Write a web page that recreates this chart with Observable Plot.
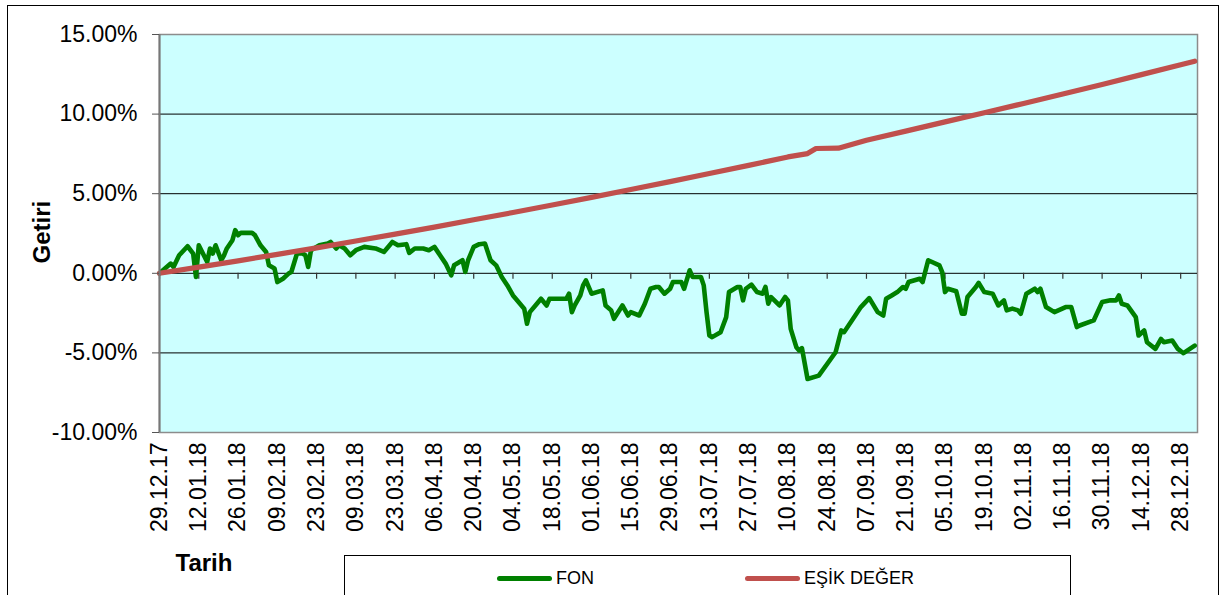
<!DOCTYPE html>
<html><head><meta charset="utf-8">
<script src="https://cdn.jsdelivr.net/npm/d3@7"></script>
<script src="https://cdn.jsdelivr.net/npm/@observablehq/plot@0.6"></script>
<style>
body{margin:0;background:#fff;}
#wrap{position:relative;width:1227px;height:595px;overflow:hidden;font-family:"Liberation Sans",Arial,sans-serif;background:#fff;}
#border{position:absolute;left:7px;top:5px;width:1212px;height:640px;border:1px solid #000;box-sizing:border-box;pointer-events:none;}
#legend{position:absolute;left:344px;top:555px;width:727px;height:70px;border:1px solid #000;box-sizing:border-box;background:#fff;}
.item{position:absolute;top:12px;display:flex;align-items:center;font-size:18px;color:#000;}
.sw{display:inline-block;width:55px;height:5px;border-radius:2.5px;margin-right:4px;}
#chart{position:absolute;left:0;top:0;}
</style>
</head><body>
<div id="wrap">
  <div id="chart"></div>
  <div id="border"></div>
  <div id="legend"></div>
</div>
<script>
// ---- data ----
const tickDates = ["2017-12-29","2018-01-12","2018-01-26","2018-02-09","2018-02-23","2018-03-09","2018-03-23","2018-04-06","2018-04-20","2018-05-04","2018-05-18","2018-06-01","2018-06-15","2018-06-29","2018-07-13","2018-07-27","2018-08-10","2018-08-24","2018-09-07","2018-09-21","2018-10-05","2018-10-19","2018-11-02","2018-11-16","2018-11-30","2018-12-14","2018-12-28"];
const tickLabels = ["29.12.17","12.01.18","26.01.18","09.02.18","23.02.18","09.03.18","23.03.18","06.04.18","20.04.18","04.05.18","18.05.18","01.06.18","15.06.18","29.06.18","13.07.18","27.07.18","10.08.18","24.08.18","07.09.18","21.09.18","05.10.18","19.10.18","02.11.18","16.11.18","30.11.18","14.12.18","28.12.18"];
const yTicks = [-10, -5, 0, 5, 10, 15];
const gridValues = [-5, 0, 5, 10];
const seriesNames = ["FON", "EŞİK DEĞER"];
const seriesColors = ["#008000", "#c0504d"];

const fonDates = ["2017-12-29","2018-01-02","2018-01-03","2018-01-05","2018-01-08","2018-01-10","2018-01-11","2018-01-12","2018-01-15","2018-01-16","2018-01-17","2018-01-18","2018-01-20","2018-01-21","2018-01-22","2018-01-24","2018-01-25","2018-01-26","2018-01-27","2018-01-31",
"2018-02-01","2018-02-03","2018-02-05","2018-02-06","2018-02-08","2018-02-09","2018-02-11","2018-02-13","2018-02-14","2018-02-16","2018-02-18","2018-02-19","2018-02-20","2018-02-21","2018-02-24","2018-02-27","2018-02-28",
"2018-03-02","2018-03-03","2018-03-05","2018-03-07","2018-03-09","2018-03-12","2018-03-16","2018-03-19","2018-03-22","2018-03-24","2018-03-27","2018-03-28","2018-03-30",
"2018-04-02","2018-04-04","2018-04-06","2018-04-08","2018-04-10","2018-04-12","2018-04-13","2018-04-16","2018-04-17","2018-04-18","2018-04-20","2018-04-22","2018-04-24","2018-04-26","2018-04-28","2018-04-30",
"2018-05-02","2018-05-04","2018-05-05","2018-05-08","2018-05-09","2018-05-10","2018-05-12","2018-05-14","2018-05-16","2018-05-17","2018-05-23","2018-05-24","2018-05-25","2018-05-26","2018-05-28","2018-05-29","2018-05-30",
"2018-06-01","2018-06-05","2018-06-06","2018-06-08","2018-06-09","2018-06-12","2018-06-14","2018-06-15","2018-06-18","2018-06-20","2018-06-22","2018-06-24","2018-06-25","2018-06-27","2018-06-29","2018-06-30",
"2018-07-03","2018-07-04","2018-07-06","2018-07-07","2018-07-10","2018-07-11","2018-07-12","2018-07-13","2018-07-14","2018-07-17","2018-07-19","2018-07-20","2018-07-23","2018-07-24","2018-07-25","2018-07-26","2018-07-28","2018-07-30",
"2018-08-01","2018-08-02","2018-08-03","2018-08-04","2018-08-07","2018-08-09","2018-08-10","2018-08-11","2018-08-13","2018-08-14","2018-08-15","2018-08-17","2018-08-21","2018-08-27","2018-08-29","2018-08-30",
"2018-09-03","2018-09-05","2018-09-08","2018-09-11","2018-09-13","2018-09-14","2018-09-16","2018-09-18","2018-09-20","2018-09-21","2018-09-22","2018-09-26","2018-09-27","2018-09-29",
"2018-10-03","2018-10-04","2018-10-05","2018-10-06","2018-10-09","2018-10-11","2018-10-12","2018-10-13","2018-10-16","2018-10-17","2018-10-19","2018-10-22","2018-10-24","2018-10-26","2018-10-27","2018-10-29","2018-10-31",
"2018-11-01","2018-11-03","2018-11-06","2018-11-07","2018-11-08","2018-11-10","2018-11-13","2018-11-17","2018-11-19","2018-11-21","2018-11-22","2018-11-27","2018-11-30",
"2018-12-03","2018-12-05","2018-12-06","2018-12-07","2018-12-09","2018-12-12","2018-12-13","2018-12-15","2018-12-16","2018-12-19","2018-12-21","2018-12-22","2018-12-25","2018-12-27","2018-12-29","2019-01-02"];
const fonValues = [0.00,0.61,0.40,1.13,1.70,1.24,-0.23,1.76,0.71,1.56,1.24,1.76,0.82,1.13,1.56,2.08,2.71,2.39,2.54,2.54,
2.40,1.76,1.34,0.50,0.30,-0.55,-0.34,-0.02,0.08,1.24,1.24,1.13,0.40,1.45,1.76,1.87,1.97,
1.56,1.76,1.56,1.13,1.45,1.66,1.56,1.34,1.97,1.76,1.83,1.28,1.56,
1.56,1.45,1.66,1.13,0.61,-0.13,0.50,0.82,0.08,0.82,1.66,1.83,1.87,0.82,0.50,-0.23,
-0.76,-1.39,-1.60,-2.22,-3.17,-2.44,-2.02,-1.60,-2.02,-1.60,-1.60,-1.28,-2.44,-2.02,-1.39,-0.76,-0.44,
-1.28,-1.07,-2.02,-2.33,-2.86,-2.02,-2.65,-2.44,-2.65,-1.91,-0.97,-0.86,-0.86,-1.28,-0.97,-0.55,
-0.55,-0.97,0.19,-0.23,-0.23,-0.76,-2.44,-3.91,-4.01,-3.70,-2.75,-1.18,-0.86,-0.86,-1.70,-0.97,-0.71,-1.18,
-1.28,-0.86,-1.91,-1.49,-2.02,-1.49,-1.70,-3.49,-4.64,-4.85,-4.70,-6.64,-6.43,-4.96,-3.59,-3.70,
-2.65,-2.12,-1.56,-2.44,-2.65,-1.60,-1.39,-1.18,-0.86,-0.97,-0.55,-0.34,-0.55,0.82,
0.50,0.08,-1.18,-0.97,-1.13,-2.54,-2.54,-1.49,-0.86,-0.60,-1.18,-1.28,-2.02,-1.70,-2.33,-2.22,-2.33,
-2.54,-1.28,-0.97,-1.18,-0.97,-2.12,-2.44,-2.12,-2.12,-3.38,-3.28,-2.96,-1.81,
-1.70,-1.70,-1.39,-1.91,-2.02,-2.75,-3.91,-3.59,-4.33,-4.75,-4.12,-4.33,-4.22,-4.75,-5.02,-4.54];

const esikDates = ["2017-12-29","2018-01-12","2018-01-26","2018-02-09","2018-02-23","2018-03-09","2018-03-23","2018-04-06","2018-04-20","2018-05-04","2018-05-18","2018-06-01","2018-06-15","2018-06-29","2018-07-13","2018-07-27","2018-08-10","2018-08-17","2018-08-20","2018-08-28","2018-09-07","2018-09-21","2018-10-05","2018-10-19","2018-11-02","2018-11-16","2018-11-30","2018-12-14","2018-12-28","2019-01-02"];
const esikValues = [0.00,0.39,0.78,1.19,1.60,2.03,2.46,2.90,3.36,3.82,4.29,4.77,5.26,5.76,6.27,6.78,7.31,7.52,7.84,7.86,8.36,8.93,9.51,10.09,10.67,11.26,11.86,12.48,13.10,13.32];

// ---- build ----
const parse = d3.utcParse("%Y-%m-%d");
const fon = fonDates.map((d, i) => ({date: parse(d), value: fonValues[i]}));
const esik = esikDates.map((d, i) => ({date: parse(d), value: esikValues[i]}));
const ticks = tickDates.map(parse);
const labelOf = new Map(ticks.map((d, i) => [+d, tickLabels[i]]));

const chart = Plot.plot({
  width: 1227, height: 595,
  marginLeft: 159, marginRight: 30, marginTop: 34, marginBottom: 163,
  style: {fontFamily: "'Liberation Sans', Arial, sans-serif", background: "transparent", color: "#000"},
  x: {type: "utc", domain: [parse("2017-12-29"), parse("2019-01-03")]},
  y: {domain: [-10, 15]},
  marks: [
    Plot.frame({fill: "#ccffff", stroke: "#8c8c8c", strokeWidth: 1.5}),
    Plot.ruleY(gridValues, {stroke: "#000", strokeWidth: 1}),
    Plot.ruleX(ticks, {x: d => d, y1: 0, y2: 0, insetBottom: -6, stroke: "#333", strokeWidth: 1.2}),
    Plot.line(fon, {x: "date", y: "value", stroke: seriesColors[0], strokeWidth: 4.6, strokeLinejoin: "round", strokeLinecap: "round"}),
    Plot.line(esik, {x: "date", y: "value", stroke: seriesColors[1], strokeWidth: 5.2, strokeLinejoin: "round", strokeLinecap: "round"}),
    Plot.ruleX([parse("2017-12-29")], {stroke: "#777", strokeWidth: 2}),
    Plot.axisY({ticks: yTicks, tickFormat: d => d.toFixed(2) + "%", tickSize: 7, tickPadding: 15, fontSize: 23, stroke: "#555", label: null}),
    Plot.axisX({ticks: ticks, tickFormat: d => labelOf.get(+d), tickRotate: -90, tickSize: 0, tickPadding: 10, fontSize: 23, label: null}),
    Plot.text(["Getiri"], {text: d => d, frameAnchor: "left", rotate: -90, dx: -117, dy: 30, fontWeight: "bold", fontSize: 24}),
    Plot.text(["Tarih"], {text: d => d, frameAnchor: "bottom-left", textAnchor: "start", dx: 16, dy: 138, fontWeight: "bold", fontSize: 24})
  ]
});
document.getElementById("chart").appendChild(chart);

// legend
const legend = document.getElementById("legend");
const legendX = [152, 400];
seriesNames.forEach((name, i) => {
  const it = document.createElement("div");
  it.className = "item";
  it.style.left = legendX[i] + "px";
  const sw = document.createElement("span");
  sw.className = "sw";
  sw.style.background = seriesColors[i];
  it.appendChild(sw);
  it.appendChild(document.createTextNode(name));
  legend.appendChild(it);
});
</script>
</body></html>
